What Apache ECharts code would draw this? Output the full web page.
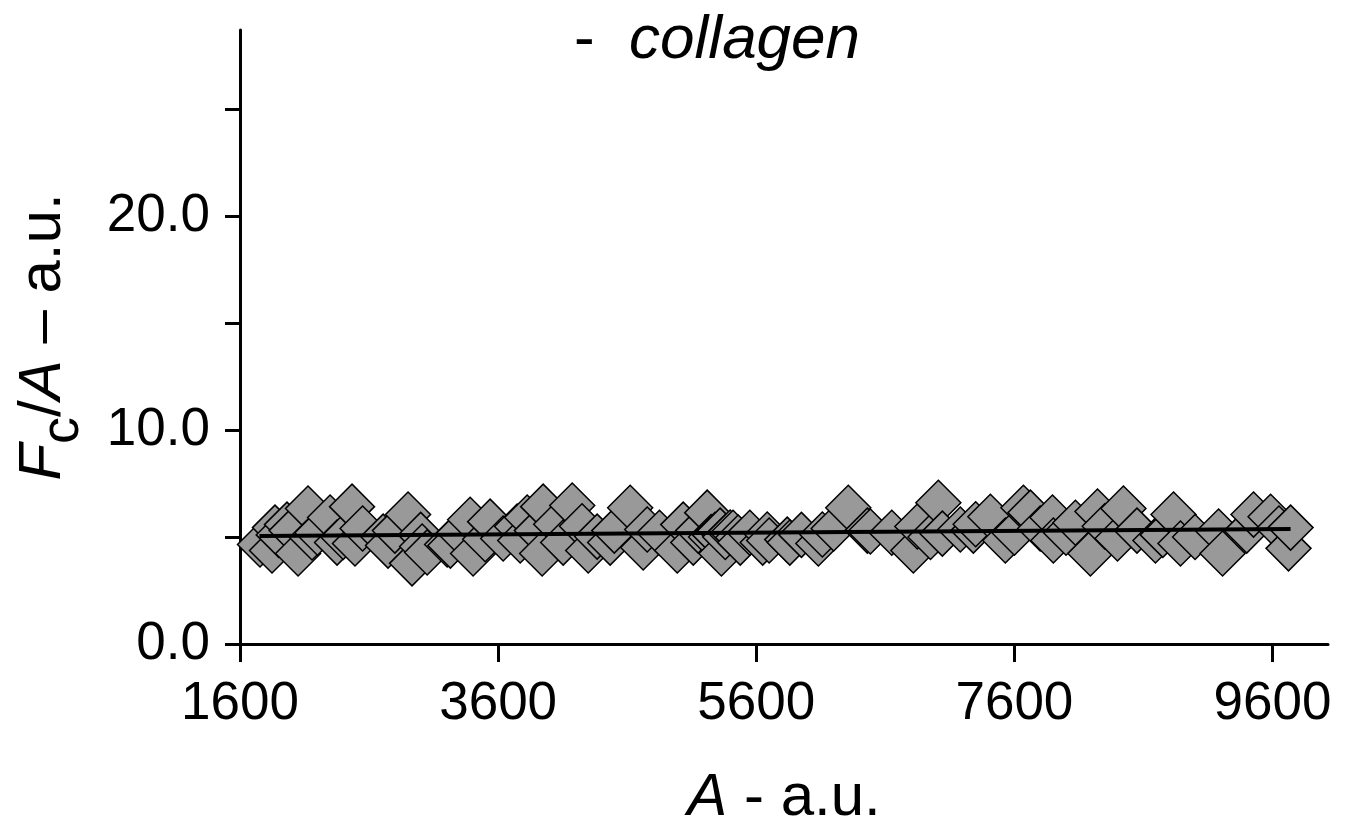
<!DOCTYPE html>
<html>
<head>
<meta charset="utf-8">
<script src="https://cdn.jsdelivr.net/npm/echarts@6/dist/echarts.min.js"></script>
<style>
    html, body { margin: 0; padding: 0; background: #fff; }
    #chart { width: 1353px; height: 833px; }
</style>
</head>
<body>
<div id="chart"></div>
<script>
// measured points (A, Fc/A)
var pointsX = [1755, 1848, 1871, 1900, 1964, 2000, 2050, 2127, 2158, 2200, 2298, 2352, 2400, 2468, 2491, 2550,
    2709, 2747, 2800, 2902, 2933, 3000, 3011, 3050, 3205, 3230, 3300, 3383, 3406, 3500, 3538, 3639, 3747, 3771,
    3825, 3900, 3941, 3949, 4050, 4104, 4174, 4250, 4298, 4367, 4468, 4500, 4623, 4724, 4755, 4850, 4988, 5034,
    5112, 5150, 5220, 5250, 5280, 5320, 5330, 5360, 5398, 5420, 5460, 5476, 5550, 5650, 5685, 5700, 5840, 5860,
    5950, 6081, 6112, 6200, 6313, 6461, 6484, 6650, 6817, 6848, 6950, 7011, 7042, 7181, 7282, 7300, 7414, 7530,
    7600, 7670, 7724, 7800, 7895, 7902, 8000, 8073, 8189, 8244, 8300, 8399, 8445, 8550, 8693, 8750, 8833, 8887,
    9000, 9182, 9213, 9400, 9453, 9585, 9650, 9724, 9740];
var pointsY = [4.65, 4.37, 5.44, 5.10, 5.58, 5.30, 4.23, 6.33, 4.98, 5.20, 5.91, 4.74, 5.00, 6.42, 4.70, 5.40,
    5.02, 4.60, 5.30, 6.05, 3.77, 5.10, 4.56, 4.28, 4.65, 4.60, 5.20, 5.81, 4.23, 4.90, 5.72, 4.93, 5.49, 4.84,
    5.91, 5.30, 4.23, 6.42, 5.60, 4.74, 6.47, 5.50, 4.37, 5.02, 4.74, 5.30, 6.37, 4.51, 5.35, 5.20, 4.37, 5.58,
    4.74, 5.30, 6.14, 5.00, 5.10, 5.30, 4.23, 5.00, 5.21, 5.20, 4.98, 4.74, 5.20, 4.74, 5.12, 4.84, 4.88, 4.74,
    5.10, 4.70, 5.12, 5.40, 6.37, 5.30, 5.26, 5.20, 4.37, 5.49, 5.00, 6.60, 5.16, 5.35, 5.30, 5.60, 5.95, 4.84,
    5.20, 6.37, 6.14, 5.40, 5.91, 4.84, 5.20, 5.67, 4.23, 6.19, 5.50, 4.93, 6.33, 5.30, 4.84, 5.10, 6.05, 4.70,
    5.00, 5.26, 4.23, 5.30, 6.05, 5.95, 5.40, 4.47, 5.44];
// fitted line
var fitX = [1750, 9740];
var fitY = [5.05, 5.38];
var xTicks = [1600, 3600, 5600, 7600, 9600];
var yTicks = [0, 5, 10, 15, 20, 25];
var yLabels = [0, 10, 20];

var font = 'Liberation Sans, Arial, Helvetica, sans-serif';
var myChart = echarts.init(document.getElementById('chart'));

var scatterData = pointsX.map(function (x, i) { return [x, pointsY[i]]; });
var fitData = fitX.map(function (x, i) { return [x, fitY[i]]; });

myChart.setOption({
    backgroundColor: '#fff',
    animation: false,
    title: {
        text: '{n|-  }{i|collagen}',
        left: 574,
        top: 10,
        padding: 0,
        textStyle: {
            fontWeight: 'normal',
            rich: {
                n: { fontSize: 62, fontFamily: font, fontWeight: 'normal', color: '#000' },
                i: { fontSize: 62, fontFamily: font, fontWeight: 'normal', fontStyle: 'italic', color: '#000' }
            }
        }
    },
    grid: { left: 240, right: 25, top: 30, bottom: 186 },
    xAxis: {
        type: 'value',
        min: 1600,
        max: 10030,
        interval: 2000,
        name: '{i|A}{n| - a.u.}',
        nameLocation: 'middle',
        nameGap: 124,
        nameTextStyle: {
            rich: {
                i: { fontSize: 60, fontFamily: font, fontStyle: 'italic', color: '#000' },
                n: { fontSize: 60, fontFamily: font, color: '#000' }
            }
        },
        axisLine: { lineStyle: { color: '#000', width: 3 } },
        axisTick: { length: 18, lineStyle: { color: '#000', width: 3 }, customValues: xTicks },
        axisLabel: {
            color: '#000', fontSize: 53, fontFamily: font, margin: 34, customValues: xTicks,
            formatter: function (v) { return String(v); }
        },
        splitLine: { show: false }
    },
    yAxis: {
        type: 'value',
        min: 0,
        max: 28.7,
        name: '{i|F}{s|c}{n|/}{i|A}{n| – a.u.}',
        nameLocation: 'middle',
        nameRotate: 90,
        nameGap: 150,
        nameTextStyle: {
            rich: {
                i: { fontSize: 60, fontFamily: font, fontStyle: 'italic', color: '#000' },
                s: { fontSize: 54, fontFamily: font, color: '#000', padding: [40, 0, 0, 0] },
                n: { fontSize: 60, fontFamily: font, color: '#000' }
            }
        },
        axisLine: { show: true, lineStyle: { color: '#000', width: 3 } },
        axisTick: { show: true, length: 15, lineStyle: { color: '#000', width: 3 }, customValues: yTicks },
        axisLabel: {
            color: '#000', fontSize: 53, fontFamily: font, margin: 30, customValues: yLabels,
            formatter: function (v) { return v.toFixed(1); }
        },
        splitLine: { show: false }
    },
    series: [
        {
            type: 'scatter',
            data: scatterData,
            symbol: 'diamond',
            symbolSize: 45,
            itemStyle: { color: '#999999', borderColor: '#000', borderWidth: 1.5, opacity: 1 }
        },
        {
            type: 'line',
            data: fitData,
            symbol: 'none',
            z: 5,
            lineStyle: { color: '#000', width: 4 }
        }
    ]
});
</script>
</body>
</html>
